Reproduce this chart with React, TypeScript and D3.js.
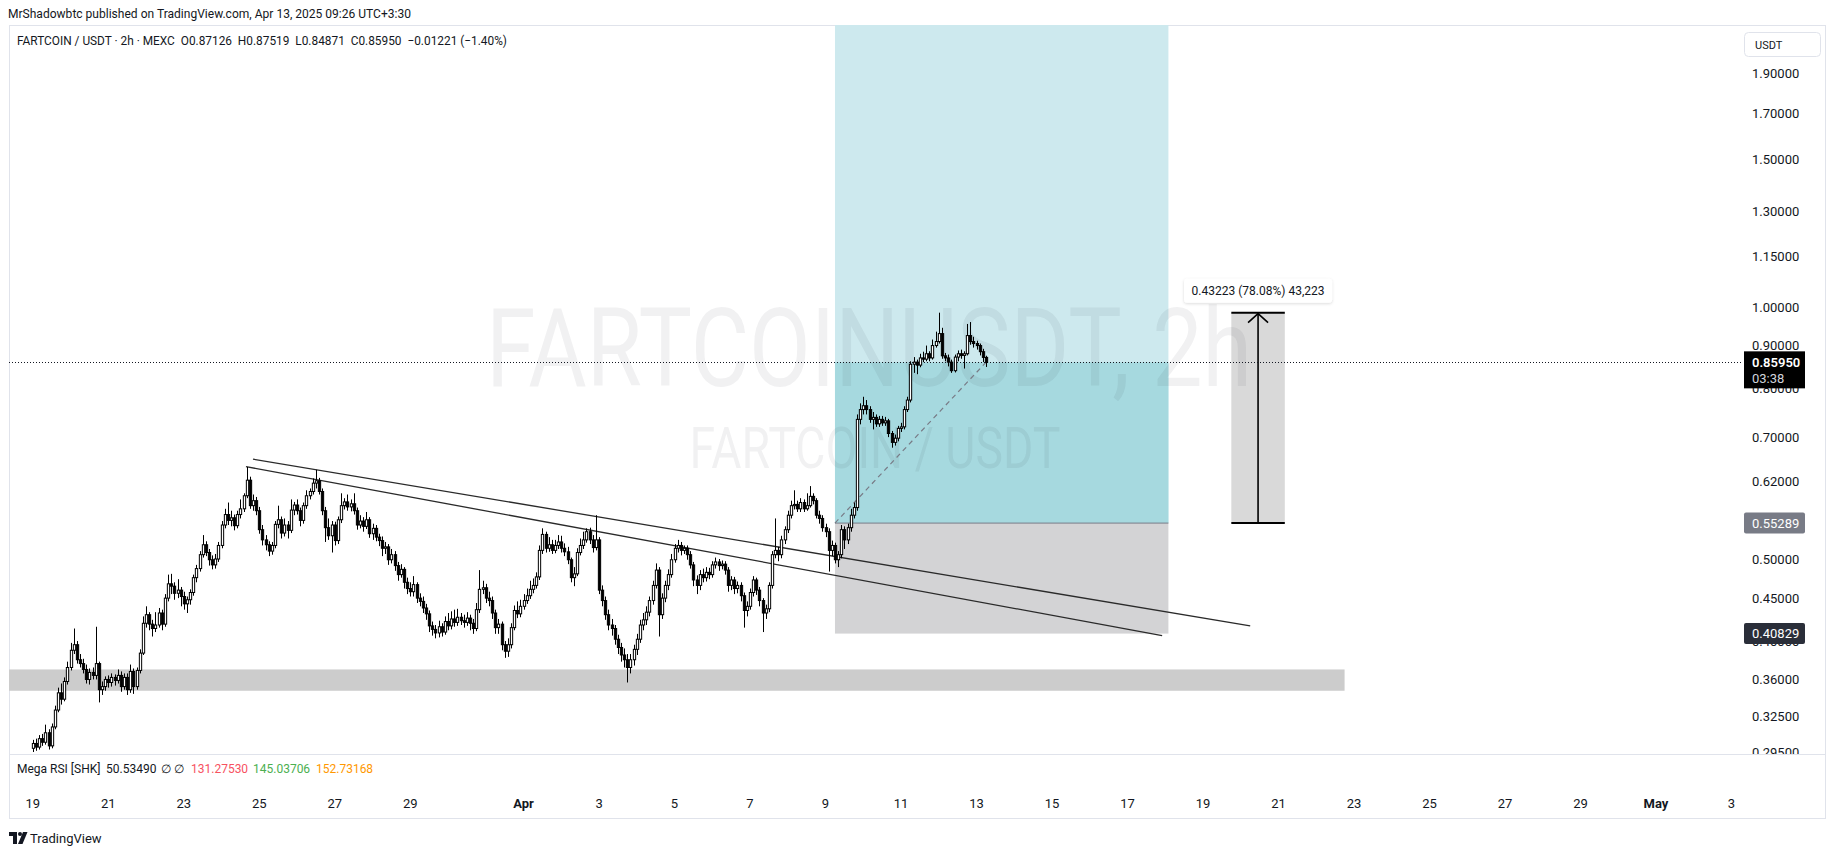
import React from 'react';
import * as d3 from 'd3';

const W = 1835;
const H = 855;

// price pane edges (px)
const PANE = { left: 9, right: 1741, top: 25, bottom: 754 };

// 2h candles from Mar 19 00:00
const startTime = Date.UTC(2025, 2, 19, 0);
const barHours = 2;
const firstOpen = 0.298;

const closes = [
  0.302, 0.299, 0.306, 0.303, 0.311, 0.300, 0.316, 0.331, 0.347, 0.341,
  0.358, 0.372, 0.390, 0.396, 0.380, 0.376, 0.370, 0.360, 0.367, 0.364,
  0.376, 0.350, 0.353, 0.360, 0.357, 0.362, 0.359, 0.364, 0.353, 0.362,
  0.350, 0.368, 0.353, 0.369, 0.387, 0.420, 0.430, 0.419, 0.414, 0.418,
  0.432, 0.419, 0.450, 0.468, 0.465, 0.456, 0.460, 0.452, 0.443, 0.448,
  0.457, 0.476, 0.488, 0.507, 0.521, 0.510, 0.500, 0.493, 0.501, 0.520,
  0.550, 0.566, 0.557, 0.561, 0.549, 0.566, 0.575, 0.596, 0.622, 0.580,
  0.588, 0.572, 0.543, 0.528, 0.521, 0.512, 0.520, 0.551, 0.558, 0.538,
  0.550, 0.542, 0.573, 0.581, 0.572, 0.557, 0.580, 0.596, 0.603, 0.617,
  0.621, 0.603, 0.572, 0.546, 0.534, 0.550, 0.527, 0.558, 0.580, 0.586,
  0.578, 0.583, 0.572, 0.550, 0.556, 0.548, 0.558, 0.537, 0.545, 0.532,
  0.527, 0.516, 0.518, 0.500, 0.507, 0.492, 0.480, 0.487, 0.470, 0.462,
  0.458, 0.467, 0.450, 0.446, 0.438, 0.431, 0.417, 0.413, 0.409, 0.416,
  0.410, 0.422, 0.417, 0.425, 0.421, 0.427, 0.423, 0.421, 0.426, 0.420,
  0.414, 0.436, 0.461, 0.463, 0.450, 0.447, 0.432, 0.415, 0.419, 0.396,
  0.389, 0.396, 0.415, 0.435, 0.431, 0.440, 0.447, 0.453, 0.461, 0.466,
  0.477, 0.513, 0.536, 0.516, 0.521, 0.513, 0.520, 0.525, 0.516, 0.511,
  0.500, 0.476, 0.481, 0.510, 0.520, 0.528, 0.540, 0.528, 0.517, 0.528,
  0.460, 0.447, 0.430, 0.418, 0.414, 0.402, 0.393, 0.385, 0.380, 0.372,
  0.380, 0.391, 0.402, 0.418, 0.424, 0.433, 0.447, 0.466, 0.486, 0.430,
  0.450, 0.466, 0.480, 0.500, 0.516, 0.520, 0.513, 0.516, 0.507, 0.493,
  0.473, 0.466, 0.480, 0.476, 0.483, 0.480, 0.493, 0.497, 0.492, 0.494,
  0.486, 0.466, 0.473, 0.462, 0.466, 0.453, 0.435, 0.440, 0.457, 0.473,
  0.460, 0.447, 0.432, 0.437, 0.466, 0.507, 0.513, 0.507, 0.528, 0.543,
  0.565, 0.580, 0.582, 0.575, 0.585, 0.575, 0.580, 0.595, 0.588, 0.565,
  0.560, 0.546, 0.540, 0.513, 0.520, 0.500, 0.507, 0.543, 0.528, 0.546,
  0.565, 0.577, 0.735, 0.755, 0.763, 0.755, 0.735, 0.739, 0.726, 0.735,
  0.728, 0.732, 0.707, 0.690, 0.698, 0.717, 0.720, 0.755, 0.775, 0.855,
  0.860, 0.853, 0.870, 0.867, 0.880, 0.870, 0.900, 0.910, 0.930, 0.875,
  0.870, 0.860, 0.840, 0.872, 0.880, 0.876, 0.880, 0.925, 0.910, 0.905,
  0.900, 0.885, 0.87126, 0.8595,
];

const highs = [
  0.305, 0.306, 0.309, 0.310, 0.318, 0.314, 0.319, 0.335, 0.352, 0.356,
  0.362, 0.378, 0.398, 0.414, 0.400, 0.386, 0.381, 0.375, 0.371, 0.372,
  0.416, 0.378, 0.358, 0.363, 0.364, 0.366, 0.365, 0.370, 0.368, 0.366,
  0.366, 0.375, 0.371, 0.372, 0.391, 0.428, 0.440, 0.433, 0.424, 0.433,
  0.438, 0.436, 0.455, 0.480, 0.481, 0.470, 0.474, 0.464, 0.458, 0.452,
  0.461, 0.480, 0.493, 0.512, 0.535, 0.526, 0.515, 0.506, 0.508, 0.525,
  0.556, 0.575, 0.585, 0.572, 0.566, 0.572, 0.590, 0.600, 0.645, 0.628,
  0.598, 0.594, 0.578, 0.550, 0.535, 0.526, 0.525, 0.556, 0.580, 0.563,
  0.560, 0.556, 0.590, 0.586, 0.590, 0.577, 0.585, 0.605, 0.608, 0.625,
  0.640, 0.626, 0.608, 0.578, 0.560, 0.556, 0.555, 0.563, 0.600, 0.592,
  0.598, 0.590, 0.600, 0.577, 0.565, 0.562, 0.570, 0.562, 0.552, 0.550,
  0.537, 0.533, 0.525, 0.522, 0.515, 0.512, 0.497, 0.494, 0.490, 0.476,
  0.470, 0.478, 0.470, 0.456, 0.452, 0.443, 0.435, 0.422, 0.418, 0.423,
  0.420, 0.428, 0.432, 0.434, 0.436, 0.437, 0.432, 0.430, 0.433, 0.430,
  0.425, 0.444, 0.486, 0.472, 0.468, 0.458, 0.452, 0.436, 0.425, 0.422,
  0.400, 0.403, 0.420, 0.441, 0.446, 0.448, 0.455, 0.462, 0.472, 0.475,
  0.483, 0.520, 0.545, 0.540, 0.532, 0.528, 0.528, 0.535, 0.534, 0.523,
  0.518, 0.503, 0.490, 0.516, 0.530, 0.540, 0.545, 0.546, 0.535, 0.565,
  0.532, 0.466, 0.452, 0.436, 0.425, 0.418, 0.407, 0.398, 0.392, 0.386,
  0.386, 0.396, 0.408, 0.424, 0.432, 0.440, 0.452, 0.472, 0.495, 0.490,
  0.456, 0.472, 0.487, 0.508, 0.522, 0.528, 0.525, 0.520, 0.520, 0.512,
  0.497, 0.479, 0.486, 0.488, 0.490, 0.489, 0.498, 0.503, 0.501, 0.499,
  0.498, 0.490, 0.478, 0.477, 0.471, 0.470, 0.457, 0.446, 0.462, 0.478,
  0.476, 0.464, 0.450, 0.442, 0.470, 0.512, 0.560, 0.518, 0.534, 0.548,
  0.572, 0.588, 0.605, 0.588, 0.592, 0.590, 0.600, 0.612, 0.600, 0.592,
  0.572, 0.565, 0.552, 0.545, 0.527, 0.524, 0.512, 0.550, 0.548, 0.552,
  0.575, 0.585, 0.745, 0.768, 0.782, 0.775, 0.762, 0.750, 0.745, 0.742,
  0.742, 0.740, 0.736, 0.712, 0.705, 0.722, 0.728, 0.762, 0.782, 0.862,
  0.872, 0.866, 0.880, 0.885, 0.900, 0.886, 0.915, 0.935, 0.985, 0.945,
  0.882, 0.878, 0.866, 0.878, 0.888, 0.890, 0.886, 0.955, 0.960, 0.922,
  0.912, 0.905, 0.892, 0.87519,
];

const lows = [
  0.295, 0.296, 0.297, 0.300, 0.301, 0.297, 0.298, 0.314, 0.329, 0.336,
  0.339, 0.355, 0.369, 0.386, 0.376, 0.372, 0.366, 0.356, 0.355, 0.360,
  0.360, 0.338, 0.345, 0.349, 0.352, 0.353, 0.354, 0.356, 0.348, 0.350,
  0.345, 0.347, 0.346, 0.350, 0.366, 0.385, 0.415, 0.412, 0.405, 0.410,
  0.415, 0.412, 0.416, 0.446, 0.455, 0.448, 0.450, 0.440, 0.436, 0.432,
  0.442, 0.453, 0.470, 0.484, 0.503, 0.505, 0.492, 0.487, 0.488, 0.497,
  0.516, 0.545, 0.550, 0.548, 0.542, 0.545, 0.560, 0.570, 0.592, 0.575,
  0.572, 0.565, 0.537, 0.520, 0.513, 0.505, 0.507, 0.516, 0.545, 0.530,
  0.533, 0.530, 0.538, 0.565, 0.566, 0.548, 0.552, 0.575, 0.590, 0.598,
  0.608, 0.598, 0.565, 0.525, 0.528, 0.510, 0.520, 0.522, 0.553, 0.574,
  0.572, 0.571, 0.566, 0.543, 0.545, 0.540, 0.544, 0.531, 0.528, 0.526,
  0.519, 0.505, 0.508, 0.493, 0.495, 0.485, 0.472, 0.476, 0.462, 0.455,
  0.452, 0.452, 0.444, 0.440, 0.432, 0.424, 0.410, 0.406, 0.403, 0.404,
  0.405, 0.407, 0.412, 0.413, 0.416, 0.417, 0.418, 0.415, 0.417, 0.412,
  0.408, 0.411, 0.432, 0.455, 0.444, 0.440, 0.425, 0.408, 0.408, 0.390,
  0.382, 0.383, 0.392, 0.412, 0.426, 0.427, 0.436, 0.443, 0.449, 0.456,
  0.462, 0.473, 0.508, 0.510, 0.511, 0.508, 0.509, 0.515, 0.510, 0.505,
  0.494, 0.470, 0.465, 0.478, 0.506, 0.515, 0.524, 0.522, 0.510, 0.513,
  0.455, 0.440, 0.424, 0.412, 0.406, 0.396, 0.386, 0.378, 0.372, 0.357,
  0.366, 0.374, 0.385, 0.398, 0.412, 0.418, 0.428, 0.442, 0.462, 0.405,
  0.425, 0.445, 0.460, 0.476, 0.496, 0.510, 0.506, 0.508, 0.500, 0.488,
  0.465, 0.455, 0.460, 0.470, 0.471, 0.474, 0.476, 0.488, 0.485, 0.487,
  0.480, 0.458, 0.460, 0.455, 0.456, 0.446, 0.415, 0.428, 0.436, 0.452,
  0.454, 0.440, 0.410, 0.425, 0.433, 0.462, 0.502, 0.498, 0.502, 0.522,
  0.538, 0.560, 0.574, 0.570, 0.570, 0.570, 0.572, 0.577, 0.582, 0.560,
  0.552, 0.540, 0.532, 0.484, 0.505, 0.495, 0.490, 0.502, 0.515, 0.522,
  0.540, 0.560, 0.572, 0.725, 0.745, 0.745, 0.728, 0.715, 0.720, 0.720,
  0.722, 0.722, 0.700, 0.680, 0.684, 0.692, 0.710, 0.715, 0.750, 0.770,
  0.835, 0.832, 0.848, 0.860, 0.862, 0.862, 0.866, 0.895, 0.905, 0.868,
  0.862, 0.850, 0.835, 0.836, 0.862, 0.868, 0.845, 0.876, 0.902, 0.895,
  0.890, 0.876, 0.860, 0.84871,
];

const priceTicks = [1.9, 1.7, 1.5, 1.3, 1.15, 1.0, 0.9, 0.8, 0.7, 0.62, 0.55, 0.5, 0.45, 0.4, 0.36, 0.325, 0.295];

const dateTicks = [
  { d: [2, 19], label: '19' }, { d: [2, 21], label: '21' }, { d: [2, 23], label: '23' },
  { d: [2, 25], label: '25' }, { d: [2, 27], label: '27' }, { d: [2, 29], label: '29' },
  { d: [3, 1], label: 'Apr', bold: true }, { d: [3, 3], label: '3' }, { d: [3, 5], label: '5' },
  { d: [3, 7], label: '7' }, { d: [3, 9], label: '9' }, { d: [3, 11], label: '11' },
  { d: [3, 13], label: '13' }, { d: [3, 15], label: '15' }, { d: [3, 17], label: '17' },
  { d: [3, 19], label: '19' }, { d: [3, 21], label: '21' }, { d: [3, 23], label: '23' },
  { d: [3, 25], label: '25' }, { d: [3, 27], label: '27' }, { d: [3, 29], label: '29' },
  { d: [4, 1], label: 'May', bold: true }, { d: [4, 3], label: '3' },
];

const lastPrice = 0.8595;
const position = { start: Date.UTC(2025, 3, 9, 6), end: Date.UTC(2025, 3, 18, 2), entry: 0.55289, stop: 0.40829, target: 2.4 };
const measure = { start: Date.UTC(2025, 3, 19, 18), end: Date.UTC(2025, 3, 21, 4), from: 0.55289, to: 0.98512, label: '0.43223 (78.08%) 43,223' };
const supportZone = { start: Date.UTC(2025, 2, 17), end: Date.UTC(2025, 3, 22, 18), top: 0.370, bottom: 0.349 };
const trendLines = [
  { t1: Date.UTC(2025, 2, 24, 20), p1: 0.659, t2: Date.UTC(2025, 3, 20, 6), p2: 0.417 },
  { t1: Date.UTC(2025, 2, 24, 15, 30), p1: 0.6455, t2: Date.UTC(2025, 3, 17, 22), p2: 0.406 },
];

const rsiParts = [
  { text: 'Mega RSI [SHK]', color: '#131722', x: 17 },
  { text: '50.53490', color: '#131722', x: 106 },
  { text: '∅', color: '#131722', x: 161 },
  { text: '∅', color: '#131722', x: 174 },
  { text: '131.27530', color: '#f7525f', x: 191 },
  { text: '145.03706', color: '#4caf50', x: 253 },
  { text: '152.73168', color: '#ff9800', x: 316 },
];

const FONT = 'Roboto, "Noto Sans", sans-serif';

const App: React.FC = () => {
  const x = d3.scaleUtc()
    .domain([new Date(Date.UTC(2025, 2, 19)), new Date(Date.UTC(2025, 4, 3))])
    .range([32.8, 1731.5]);
  const y = d3.scaleLog().domain([0.295, 1.9]).range([752, 73.3]);

  const candles = closes.map((c, i) => {
    const o = i === 0 ? firstOpen : closes[i - 1];
    const t = d3.utcHour.offset(new Date(startTime), i * barHours);
    return { t, o, c, h: Math.max(highs[i], o, c), l: Math.min(lows[i], o, c) };
  });

  const bw = 2.3;
  const px = (t: number) => x(new Date(t));

  const posX1 = px(position.start);
  const posX2 = px(position.end);
  const yEntry = y(position.entry);
  const yStop = y(position.stop);
  const yLast = y(lastPrice);
  const lastT = candles[candles.length - 1].t;

  const mX1 = px(measure.start);
  const mX2 = px(measure.end);
  const mXc = (mX1 + mX2) / 2;
  const mTop = y(measure.to);
  const mBot = y(measure.from);

  return (
    <svg width={W} height={H} style={{ position: 'absolute', left: 0, top: 0, fontFamily: FONT }}>
      <defs>
        <clipPath id="pane">
          <rect x={PANE.left} y={PANE.top} width={PANE.right - PANE.left} height={PANE.bottom - PANE.top} />
        </clipPath>
        <clipPath id="axis">
          <rect x={PANE.right} y={PANE.top} width={90} height={PANE.bottom - PANE.top} />
        </clipPath>
        <filter id="shadow" x="-10%" y="-30%" width="120%" height="170%">
          <feDropShadow dx={0} dy={1} stdDeviation={1.5} floodColor="#000" floodOpacity={0.15} />
        </filter>
      </defs>
      <rect width={W} height={H} fill="#fff" />

      {/* header */}
      <text x={8} y={18} fontSize={12} fill="#131722" textLength={403} lengthAdjust="spacingAndGlyphs">
        MrShadowbtc published on TradingView.com, Apr 13, 2025 09:26 UTC+3:30
      </text>

      {/* chart frame */}
      <rect x={9.5} y={25.5} width={1816} height={793} fill="none" stroke="#e0e3eb" />
      <line x1={9} x2={1826} y1={754.5} y2={754.5} stroke="#e0e3eb" />

      <g clipPath="url(#pane)">
        {/* long position */}
        <rect x={posX1} y={PANE.top} width={posX2 - posX1} height={yEntry - PANE.top} fill="#cde9ee" />
        <rect x={posX1} y={yLast} width={posX2 - posX1} height={yEntry - yLast} fill="#a6d9df" />
        <rect x={posX1} y={yEntry} width={posX2 - posX1} height={yStop - yEntry} fill="#d3d3d5" />
        <line x1={posX1} x2={posX2} y1={yEntry} y2={yEntry} stroke="#787b86" strokeWidth={1} />

        {/* support zone */}
        <rect x={px(supportZone.start)} y={y(supportZone.top)} width={px(supportZone.end) - px(supportZone.start)}
          height={y(supportZone.bottom) - y(supportZone.top)} fill="#cccccc" />

        {/* measure box */}
        <rect x={mX1} y={mTop} width={mX2 - mX1} height={mBot - mTop} fill="#d9d9d9" />

        {/* watermark */}
        <text x={869} y={386} fontSize={110} textAnchor="middle" fill="#131722" fillOpacity={0.06}
          textLength={766} lengthAdjust="spacingAndGlyphs">FARTCOINUSDT, 2h</text>
        <text x={875} y={468} fontSize={57} textAnchor="middle" fill="#131722" fillOpacity={0.06}
          textLength={371} lengthAdjust="spacingAndGlyphs">FARTCOIN / USDT</text>

        {/* measure lines */}
        <line x1={mX1} x2={mX2} y1={mTop} y2={mTop} stroke="#000" strokeWidth={2} />
        <line x1={mX1} x2={mX2} y1={mBot} y2={mBot} stroke="#000" strokeWidth={2} />
        <line x1={mXc} x2={mXc} y1={mBot} y2={mTop + 1} stroke="#000" strokeWidth={1.6} />
        <path d={`M${mXc - 10},${mTop + 10} L${mXc},${mTop + 1} L${mXc + 10},${mTop + 10}`} fill="none" stroke="#000" strokeWidth={1.6} />

        {/* dashed entry to last price */}
        <line x1={posX1} y1={yEntry} x2={x(lastT)} y2={yLast} stroke="#787b86" strokeWidth={1.2} strokeDasharray="5 4" />

        {/* trend lines */}
        {trendLines.map((l, i) => (
          <line key={i} x1={px(l.t1)} y1={y(l.p1)} x2={px(l.t2)} y2={y(l.p2)} stroke="#2a2a2a" strokeWidth={1.3} />
        ))}

        {/* last price line */}
        <line x1={PANE.left} x2={PANE.right} y1={Math.round(yLast) + 0.5} y2={Math.round(yLast) + 0.5}
          stroke="#131722" strokeDasharray="1 2" />

        {/* candles */}
        {candles.map((d, i) => {
          const cx = Math.round(x(d.t)) + 0.5;
          const up = d.c >= d.o;
          const top = y(Math.max(d.o, d.c));
          const bot = y(Math.min(d.o, d.c));
          return (
            <g key={i}>
              <line x1={cx} x2={cx} y1={y(d.h)} y2={y(d.l)} stroke="#000" strokeWidth={1} />
              <rect x={cx - bw / 2} y={top} width={bw} height={Math.max(1, bot - top)}
                fill={up ? '#fff' : '#000'} stroke="#000" strokeWidth={1} />
            </g>
          );
        })}
      </g>

      {/* legend */}
      <text x={17} y={45} fontSize={12.5} fill="#131722" textLength={490} lengthAdjust="spacingAndGlyphs"
        style={{ whiteSpace: 'pre' }}>
        {'FARTCOIN / USDT · 2h · MEXC  O0.87126  H0.87519  L0.84871  C0.85950  −0.01221 (−1.40%)'}
      </text>

      {/* currency button */}
      <rect x={1744.5} y={32.5} width={76} height={24} rx={4} fill="#fff" stroke="#e0e3eb" />
      <text x={1755} y={48.5} fontSize={11} fill="#131722">USDT</text>

      {/* price axis */}
      <g clipPath="url(#axis)">
        {priceTicks.map(p => (
          <text key={p} x={1752} y={y(p)} dy="0.35em" fontSize={13} fill="#131722">{p.toFixed(5)}</text>
        ))}
        <rect x={1744} y={yLast - 11} width={61} height={37} fill="#000" />
        <text x={1752} y={yLast} dy="0.35em" fontSize={13} fontWeight={600} fill="#fff">{lastPrice.toFixed(5)}</text>
        <text x={1752} y={yLast + 16} dy="0.35em" fontSize={13} fill="#d1d4dc">03:38</text>
        <rect x={1744} y={yEntry - 10.5} width={61} height={21} rx={2} fill="#787b86" />
        <text x={1752} y={yEntry} dy="0.35em" fontSize={13} fill="#fff">{position.entry.toFixed(5)}</text>
        <rect x={1744} y={yStop - 10.5} width={61} height={21} rx={2} fill="#2a2e39" />
        <text x={1752} y={yStop} dy="0.35em" fontSize={13} fill="#fff">{position.stop.toFixed(5)}</text>
      </g>

      {/* measure label */}
      <rect x={mXc - 74} y={mTop - 34} width={148} height={24} rx={3} fill="#fff" filter="url(#shadow)" />
      <text x={mXc} y={mTop - 22} dy="0.35em" fontSize={12} textAnchor="middle" fill="#131722">{measure.label}</text>

      {/* indicator legend */}
      {rsiParts.map((r, i) => (
        <text key={i} x={r.x} y={769} dy="0.35em" fontSize={12} fill={r.color}>{r.text}</text>
      ))}

      {/* time axis */}
      {dateTicks.map((t, i) => (
        <text key={i} x={px(Date.UTC(2025, t.d[0], t.d[1]))} y={803} dy="0.35em" fontSize={13}
          textAnchor="middle" fontWeight={t.bold ? 700 : 400} fill="#131722">{t.label}</text>
      ))}

      {/* footer logo */}
      <path d="M9,832 h8 v12 h-4 v-8 h-4 z" fill="#131722" />
      <circle cx={20} cy={834} r={2} fill="#131722" />
      <path d="M23,832 h4.5 l-5,12 h-4.5 z" fill="#131722" />
      <text x={30} y={838} dy="0.35em" fontSize={13} fill="#131722">TradingView</text>
    </svg>
  );
};

export default App;
